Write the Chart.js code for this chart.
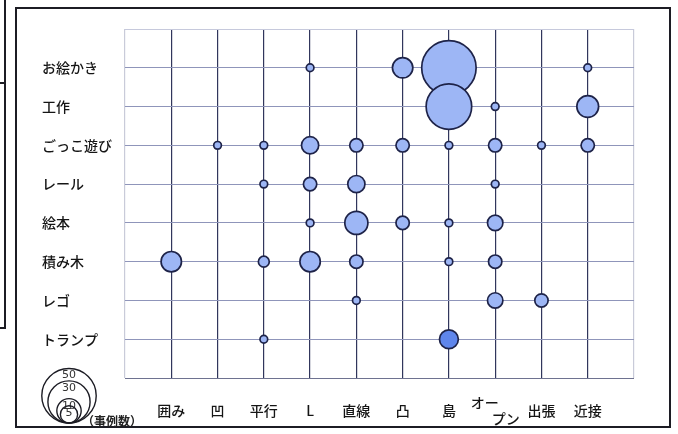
<!DOCTYPE html>
<html>
<head>
<meta charset="utf-8">
<title>配置と遊びの事例数</title>
<script src="https://cdn.jsdelivr.net/npm/chart.js@4.4.0/dist/chart.umd.min.js"></script>
<style>
  html, body { margin: 0; padding: 0; background: #fff; }
</style>
</head>
<body>
<canvas id="bubbleChart" width="678" height="434"></canvas>
<script>
// placement types along the bottom, activities down the side
var placements = ['囲み', '凹', '平行', 'L', '直線', '凸', '島', 'オープン', '出張', '近接'];
var activities = ['お絵かき', '工作', 'ごっこ遊び', 'レール', '絵本', '積み木', 'レゴ', 'トランプ'];

// number of cases per placement, one array per activity (same order as placements)
var oekaki  = [0, 0, 0, 1, 0, 7, 50, 0, 0, 1];
var kousaku = [0, 0, 0, 0, 0, 0, 35, 1, 0, 8];
var gokko   = [0, 1, 1, 5, 3, 3, 1, 3, 1, 3];
var rail    = [0, 0, 1, 3, 5, 0, 0, 1, 0, 0];
var ehon    = [0, 0, 0, 1, 9, 3, 1, 4, 0, 0];
var tsumiki = [7, 0, 2, 7, 3, 0, 1, 3, 0, 0];
var lego    = [0, 0, 0, 0, 1, 0, 0, 4, 3, 0];
var trump   = [0, 0, 1, 0, 0, 0, 6, 0, 0, 0];
var counts = [oekaki, kousaku, gokko, rail, ehon, tsumiki, lego, trump];

// circles in the size key (事例数)
var sizeKey = [50, 30, 10, 5];
// the one cell printed in a deeper blue
var deepCell = ['トランプ', '島'];

// circle area follows the count
function rOf(n) { return 3.85 * Math.sqrt(n); }

var points = [];
counts.forEach(function (row, i) {
  row.forEach(function (n, j) {
    if (n > 0) {
      points.push({ x: j + 1, y: activities.length - i, r: rOf(n), n: n,
                    deep: activities[i] === deepCell[0] && placements[j] === deepCell[1] });
    }
  });
});

var frame = {
  id: 'frame',
  beforeDraw: function (chart) {
    var ctx = chart.ctx;
    ctx.save();
    ctx.fillStyle = '#fff';
    ctx.fillRect(0, 0, chart.width, chart.height);
    ctx.restore();
  },
  afterDraw: function (chart) {
    var ctx = chart.ctx;
    ctx.save();
    // outer box
    ctx.strokeStyle = '#1c1c24';
    ctx.lineWidth = 2;
    ctx.strokeRect(16, 8, 654, 419);
    // edge of the neighbouring box on the left
    ctx.beginPath();
    ctx.moveTo(5, 0); ctx.lineTo(5, 328); ctx.lineTo(0, 328);
    ctx.moveTo(0, 83); ctx.lineTo(5, 83);
    ctx.stroke();

    // size key: nested circles resting on one point
    var cx = 69, by = 423;
    ctx.strokeStyle = '#1c1c24';
    ctx.lineWidth = 1.4;
    ctx.fillStyle = '#333';
    ctx.font = '11px "DejaVu Sans", sans-serif';
    ctx.textAlign = 'center';
    ctx.textBaseline = 'middle';
    sizeKey.forEach(function (n) {
      var r = rOf(n);
      ctx.beginPath();
      ctx.arc(cx, by - r, r, 0, Math.PI * 2);
      ctx.stroke();
      ctx.fillText(String(n), cx, by - 2 * r + 7);
    });
    ctx.textAlign = 'left';
    ctx.font = 'bold 12px "Noto Sans CJK JP"';
    ctx.fillStyle = '#222';
    ctx.fillText('（事例数）', 82, 421);
    ctx.restore();
  }
};

new Chart(document.getElementById('bubbleChart'), {
  type: 'bubble',
  data: {
    datasets: [{
      label: '事例数',
      data: points,
      backgroundColor: function (c) { return c.raw && c.raw.deep ? '#5f86ec' : '#9db6f5'; },
      borderColor: '#1e2348',
      borderWidth: 1.7,
      clip: false
    }]
  },
  plugins: [frame],
  options: {
    responsive: false,
    animation: false,
    layout: { padding: { left: 42, top: 29, right: 44, bottom: 0 }, autoPadding: false },
    plugins: { legend: { display: false }, tooltip: { enabled: false } },
    scales: {
      x: {
        type: 'linear',
        min: 0,
        max: 11,
        afterFit: function (s) { s.height = 56; },
        border: { display: false },
        grid: {
          drawTicks: false,
          lineWidth: 1.2,
          color: function (c) {
            var v = c.tick.value;
            return (v === 0 || v === 11) ? '#c9cbd9' : '#31365c';
          }
        },
        ticks: {
          stepSize: 1,
          autoSkip: false,
          maxRotation: 0,
          padding: 25,
          crossAlign: 'center',
          color: '#151515',
          font: { family: '"Noto Sans CJK JP", sans-serif', size: 14, weight: '500', lineHeight: 1.1 },
          callback: function (v) {
            var s = placements[v - 1];
            if (!s) return '';
            if (s === 'オープン') return ['オー\u3000\u2002', '\u2002\u3000プン'];
            return s;
          }
        }
      },
      y: {
        type: 'linear',
        min: 0,
        max: 9,
        afterFit: function (s) { s.width = 83; },
        border: { display: false },
        grid: {
          drawTicks: false,
          lineWidth: 1,
          color: function (c) {
            var v = c.tick.value;
            if (v === 0) return '#6e7290';
            if (v === 9) return '#c6c9dc';
            return '#8f95ba';
          }
        },
        ticks: {
          stepSize: 1,
          autoSkip: false,
          crossAlign: 'far',
          color: '#151515',
          font: { family: '"Noto Sans CJK JP", sans-serif', size: 14, weight: '500' },
          callback: function (v) {
            var s = activities[activities.length - v];
            return s ? s : '';
          }
        }
      }
    }
  }
});
</script>
</body>
</html>
